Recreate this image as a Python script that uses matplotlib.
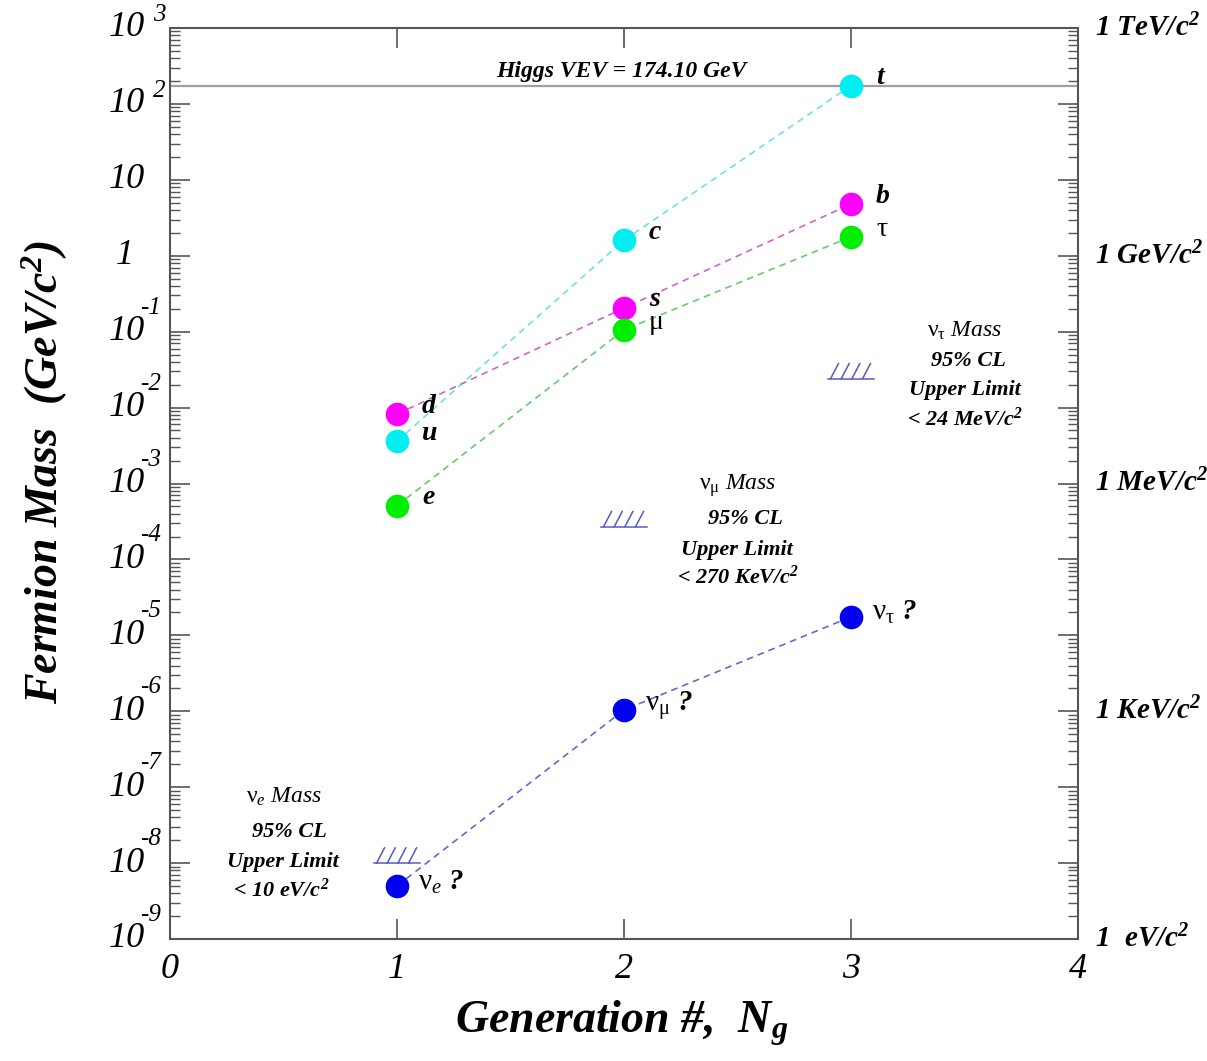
import numpy as np
import matplotlib
matplotlib.use("Agg")
import matplotlib.pyplot as plt
import matplotlib.transforms as mtransforms

plt.rcParams['font.family'] = ['Liberation Serif', 'DejaVu Serif']
plt.rcParams['mathtext.fontset'] = 'custom'
plt.rcParams['mathtext.rm'] = 'Liberation Serif'
plt.rcParams['mathtext.it'] = 'Liberation Serif:italic'
plt.rcParams['mathtext.bf'] = 'Liberation Serif:bold:italic'

# ---------------- data ----------------
generations = [1, 2, 3]
up_quarks = [0.0036, 1.6, 174.0]           # u, c, t  (GeV/c^2)
down_quarks = [0.0082, 0.205, 4.8]         # d, s, b
charged_leptons = [0.000511, 0.1057, 1.777]  # e, mu, tau
neutrinos = [5e-9, 1.04e-6, 1.75e-5]       # nu_e, nu_mu, nu_tau (guesses)
neutrino_limits = [1e-8, 2.7e-4, 2.4e-2]   # 95% CL upper limits
higgs_vev = 174.10

up_labels = ['u', 'c', 't']
down_labels = ['d', 's', 'b']
lepton_labels = ['e', 'μ', 'τ']
nu_labels = [r'$\mathrm{ν}_{e}$ ?', r'$\mathrm{ν}_{\mathrm{μ}}$ ?', r'$\mathrm{ν}_{\mathrm{τ}}$ ?']
limit_titles = [r'$\mathrm{ν}_{e}$ Mass', r'$\mathrm{ν}_{\mathrm{μ}}$ Mass', r'$\mathrm{ν}_{\mathrm{τ}}$ Mass']
limit_values = [r'< 10 eV/c$^{\mathbf{2}}$', r'< 270 KeV/c$^{\mathbf{2}}$', r'< 24 MeV/c$^{\mathbf{2}}$']

x_ticks = [0, 1, 2, 3, 4]
y_exponents = list(range(-9, 4))
right_labels = {1e3: r'1 TeV/c$^{\mathbf{2}}$', 1e0: r'1 GeV/c$^{\mathbf{2}}$', 1e-3: r'1 MeV/c$^{\mathbf{2}}$',
                1e-6: r'1 KeV/c$^{\mathbf{2}}$', 1e-9: r'1  eV/c$^{\mathbf{2}}$'}

# ---------------- figure ----------------
W, H, DPI = 1207, 1061, 100
fig = plt.figure(figsize=(W / DPI, H / DPI), dpi=DPI)
ax = fig.add_axes([170 / W, 1 - 939 / H, 908 / W, 911 / H])
ax.set_yscale('log')
ax.set_xlim(0, 4)
ax.set_ylim(1e-9, 1e3)

axis_col = '#555555'
for s in ax.spines.values():
    s.set_color(axis_col)
    s.set_linewidth(1.5)

px = 0.72  # points per pixel

# ticks
ax.set_xticks(x_ticks)
ax.set_xticklabels([])
ax.tick_params(axis='x', which='major', direction='in', length=20 * px, width=1.2,
               color=axis_col, top=True, bottom=True)
ax.set_yticks([10.0 ** e for e in y_exponents])
ax.yaxis.set_minor_locator(matplotlib.ticker.LogLocator(base=10, subs=np.arange(2, 10), numticks=50))
ax.yaxis.set_minor_formatter(matplotlib.ticker.NullFormatter())
ax.set_yticklabels([])
ax.tick_params(axis='y', which='major', direction='in', length=20 * px, width=1.2,
               color=axis_col, left=True, right=True)
ax.tick_params(axis='y', which='minor', direction='in', length=10 * px, width=1.0,
               color=axis_col, left=True, right=True)

# y tick labels (10 with raised exponent)
tr = mtransforms.blended_transform_factory(ax.transAxes, ax.transData)
lab_fs = 26
for e in y_exponents:
    v = 10.0 ** e
    if e == 0:
        ax.annotate('1', xy=(0, v), xycoords=tr, xytext=(-36 * px, 0), textcoords='offset points',
                    ha='right', va='center', fontsize=lab_fs, style='italic')
    elif e == 1:
        ax.annotate('10', xy=(0, v), xycoords=tr, xytext=(-25 * px, 0), textcoords='offset points',
                    ha='right', va='center', fontsize=lab_fs, style='italic')
    else:
        ax.annotate('10', xy=(0, v), xycoords=tr, xytext=(-25 * px, 0), textcoords='offset points',
                    ha='right', va='center', fontsize=lab_fs, style='italic')
        if e > 0:
            ax.annotate(str(e), xy=(0, v), xycoords=tr, xytext=(-17 * px, 13 * px),
                        textcoords='offset points', ha='left', va='center', fontsize=18, style='italic')
        else:
            ax.annotate(str(e), xy=(0, v), xycoords=tr, xytext=(-30 * px, 24 * px),
                        textcoords='offset points', ha='left', va='center', fontsize=18, style='italic')

# right-hand unit labels
for v, t in right_labels.items():
    ax.annotate(t, xy=(1, v), xycoords=tr, xytext=(17 * px, 0), textcoords='offset points',
                ha='left', va='center', fontsize=21, style='italic', fontweight='bold')

# x tick labels
trx = mtransforms.blended_transform_factory(ax.transData, ax.transAxes)
for xv in x_ticks:
    ax.annotate(str(xv), xy=(xv, 0), xycoords=trx, xytext=(0, -30 * px), textcoords='offset points',
                ha='center', va='center', fontsize=lab_fs, style='italic')

# axis titles
fig.text(45 / W, 1 - 472 / H, r'Fermion Mass  (GeV/$\mathbf{c}^{\mathbf{2}}$)', rotation=90,
         ha='center', va='center', fontsize=33, fontweight='bold', style='italic')
fig.text(622 / W, 1 - 1023 / H, r'Generation #,  $\mathbf{N}_{\mathbf{g}}$',
         ha='center', va='center', fontsize=33, fontweight='bold', style='italic')

# Higgs VEV line
ax.axhline(higgs_vev, color='#a0a0a0', lw=1.6, zorder=1)
ax.annotate('Higgs VEV = %.2f GeV' % higgs_vev, xy=(2.0, higgs_vev), xytext=(-3 * px, 14 * px),
            textcoords='offset points', ha='center', va='center', fontsize=17,
            fontweight='bold', style='italic')

# series
series = [
    (up_quarks, up_labels, '#00eef0', '#70e0e0', 'q'),
    (down_quarks, down_labels, '#ff00ff', '#cc66cc', 'q'),
    (charged_leptons, lepton_labels, '#00ee00', '#66cc66', 'l'),
    (neutrinos, nu_labels, '#0000ee', '#6666cc', 'n'),
]
for vals, labs, mcol, lcol, kind in series:
    ax.plot(generations, vals, ls=(0, (4, 3)), color=lcol, lw=1.2, zorder=2)
    ax.plot(generations, vals, ls='none', marker='o', ms=16, mfc=mcol, mec=mcol, zorder=3)
    for g, v, lab in zip(generations, vals, labs):
        if kind == 'q' or lab == 'e':
            ax.annotate(lab, xy=(g, v), xytext=(25 * px, 8 * px), textcoords='offset points',
                        ha='left', va='center', fontsize=20, fontweight='bold', style='italic')
        elif kind == 'l':
            ax.annotate(lab, xy=(g, v), xytext=(25 * px, 7 * px), textcoords='offset points',
                        ha='left', va='center', fontsize=20)
        else:
            ax.annotate(lab, xy=(g, v), xytext=(21 * px, 4 * px), textcoords='offset points',
                        ha='left', va='center', fontsize=21, fontweight='bold', style='italic')

# neutrino mass upper limits (hatched marks)
hatch_col = '#5858c8'
for g, lim in zip(generations, neutrino_limits):
    ax.plot([g - 0.1, g + 0.1], [lim, lim], color=hatch_col, lw=1.1, zorder=2)
    for k in range(4):
        x0 = g - 0.09 + k * 0.047
        ax.plot([x0, x0 + 0.035], [lim, lim * 10 ** 0.2], color=hatch_col, lw=1.1, zorder=2)

# limit text blocks (offsets in px relative to the limit mark)
block_offsets = [
    [(-113, 66), (-108, 31), (-114, 1), (-116, -27)],
    [(114, 41), (121, 8), (113, -23), (114, -51)],
    [(114, 48), (117, 18), (114, -11), (114, -40)],
]
for g, lim, title, val, offs in zip(generations, neutrino_limits, limit_titles, limit_values, block_offsets):
    lines = [(title, 'normal'), ('95% CL', 'bold'), ('Upper Limit', 'bold'), (val, 'bold')]
    for (txt, wt), (dx, dy) in zip(lines, offs):
        ax.annotate(txt, xy=(g, lim), xytext=(dx * px, dy * px), textcoords='offset points',
                    ha='center', va='center', fontsize=17 if wt == 'normal' else 16,
                    style='italic', fontweight=wt)

fig.savefig('out.png', dpi=DPI)
